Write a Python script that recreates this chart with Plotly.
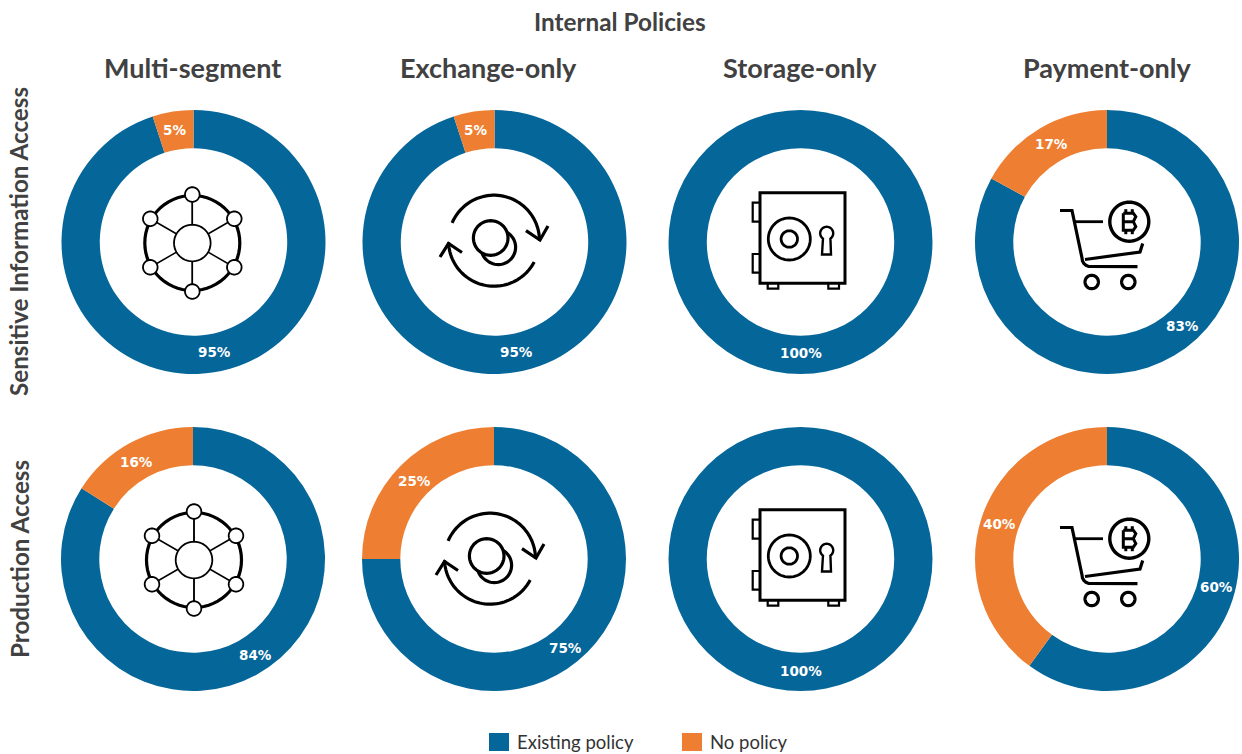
import math
import plotly.graph_objects as go

W, H = 1242, 754

# ---- data ----
segments = ["Multi-segment", "Exchange-only", "Storage-only", "Payment-only"]
policy_areas = ["Sensitive Information Access", "Production Access"]
slice_names = ["Existing policy", "No policy"]
existing_sensitive = [95, 95, 100, 83]
none_sensitive = [5, 5, 0, 17]
existing_production = [84, 75, 100, 60]
none_production = [16, 25, 0, 40]
chart_title = "Internal Policies"

# ---- styles ----
BLUE = "#05669A"
ORANGE = "#EE7F32"
GREY = "#414141"
FONT = "Lato"
LABEL_FONT = "DejaVu Sans"
col_x = [[193.5, 494.5, 800.5, 1107], [193, 494, 800.5, 1107]]
row_y = [242, 559]
R = 132
HOLE = 0.71
# label centres relative to each doughnut centre: (existing, no policy)
label_offsets = [
    [((21, 110), (-19, -112)), ((22, 110), (-19, -112)), ((0, 111), None), ((75, 84), (-56, -98))],
    [((62, 96), (-57, -97)), ((71, 89), (-80, -78)), ((0, 112), None), ((109, 28), (-108, -35))],
]


def px(x, y):
    return x / W, 1 - y / H


annotations = []


def add_text(x, y, text, size, bold=True, rot=0, color=GREY, xanchor="center", family=FONT, weight=None):
    a, b = px(x, y)
    annotations.append(dict(x=a, y=b, xref="paper", yref="paper", text=text, showarrow=False,
                            xanchor=xanchor, yanchor="middle", textangle=rot,
                            font=dict(family=family, size=size, color=color,
                                      weight=weight or (700 if bold else 400))))


fig = go.Figure()
rows = [(existing_sensitive, none_sensitive), (existing_production, none_production)]
for r, (ex, no) in enumerate(rows):
    for c in range(4):
        cx, cy = col_x[r][c], row_y[r]
        x0, y0 = px(cx - R, cy + R)
        x1, y1 = px(cx + R, cy - R)
        vals = [ex[c], no[c]]
        fig.add_trace(go.Pie(
            labels=slice_names,
            values=vals,
            textinfo="none",
            hole=HOLE,
            sort=False,
            direction="clockwise",
            rotation=0,
            marker=dict(colors=[BLUE, ORANGE], line=dict(width=0)),
            domain=dict(x=[x0, x1], y=[y0, y1]),
            showlegend=False,
        ))
        for v, off in zip(vals, label_offsets[r][c]):
            if v > 0:
                add_text(cx + off[0], cy + off[1], f"{v}%", 13.5, color="white", family=LABEL_FONT)

shapes = []


def add_path(points, width=3, fill=None, close=False, color="black"):
    s = ""
    for i, (x, y) in enumerate(points):
        a, b = px(x, y)
        s += f"{'M' if i == 0 else 'L'}{a:.5f},{b:.5f}"
    if close:
        s += "Z"
    shapes.append(dict(type="path", xref="paper", yref="paper", path=s,
                       line=dict(color=color, width=width),
                       fillcolor=fill if fill else "rgba(0,0,0,0)"))


def arc(cx, cy, r, a0, a1, n=48):
    return [(cx + r * math.cos(math.radians(a0 + (a1 - a0) * i / n)),
             cy + r * math.sin(math.radians(a0 + (a1 - a0) * i / n))) for i in range(n + 1)]


def circle(cx, cy, r, width=3, fill=None):
    add_path(arc(cx, cy, r, 0, 360, 60), width, fill, True)


def network(dx, dy):
    cx, cy = 192.3 + dx, 243 + dy
    circle(cx, cy, 47.5, 3.2)
    for a in range(30, 360, 60):
        add_path([(cx, cy), (cx + 47.5 * math.cos(math.radians(a)),
                             cy + 47.5 * math.sin(math.radians(a)))], 1.5)
    add_path([(cx, cy), (cx, cy - 47.5)], 1.5)
    add_path([(cx, cy), (cx, cy + 47.5)], 1.5)
    circle(cx, cy, 18.3, 1.8, "white")
    for a in range(30, 390, 60):
        rr = 48.5
        circle(cx + rr * math.cos(math.radians(a)), cy + rr * math.sin(math.radians(a)), 7.3, 1.8, "white")


def exchange(dx, dy):
    cx, cy = 494 + dx, 240.7 + dy
    add_path(arc(cx, cy, 45.5, 203, 360), 3.2)
    add_path(arc(cx, cy, 45.5, 28, 178), 3.2)
    add_path([(526 + dx, 230.7 + dy), (540 + dx, 240 + dy), (548 + dx, 226 + dy)], 3.2)
    add_path([(440 + dx, 257 + dy), (448.5 + dx, 243.5 + dy), (462 + dx, 252.5 + dy)], 3.2)
    circle(498.3 + dx, 247.3 + dy, 17.3, 3.2, "white")
    circle(490.7 + dx, 238 + dy, 17.3, 3.2, "white")


def safe(dx, dy):
    add_path([(760 + dx, 192.7 + dy), (845 + dx, 192.7 + dy), (845 + dx, 283.3 + dy), (760 + dx, 283.3 + dy)], 3, None, True)
    for y0, y1 in [(202.7, 221.7), (254, 272.7)]:
        add_path([(760 + dx, y0 + dy), (752.7 + dx, y0 + dy), (752.7 + dx, y1 + dy), (760 + dx, y1 + dy)], 2.2)
    for x0, x1 in [(767.7, 778.3), (828.3, 839)]:
        add_path([(x0 + dx, 283.3 + dy), (x0 + dx, 288.7 + dy), (x1 + dx, 288.7 + dy), (x1 + dx, 283.3 + dy)], 2.2)
    circle(789.3 + dx, 239 + dy, 21, 2.8)
    circle(789.3 + dx, 239 + dy, 8.2, 2.8)
    key = arc(826.7 + dx, 233.3 + dy, 6.5, 125, 415, 30)
    key += [(831 + dx, 254.5 + dy), (822 + dx, 254.5 + dy)]
    add_path(key, 2.4, None, True)


def cart(dx, dy):
    add_path([(1060 + dx, 210.5 + dy), (1072 + dx, 210.5 + dy), (1082 + dx, 258 + dy)] +
             [(1090 + dx + 8 * math.cos(math.radians(a)), 258 + dy + 8.5 * math.sin(math.radians(a)))
              for a in range(180, 80, -20)] +
             [(1137.5 + dx, 266.7 + dy)], 3.2)
    add_path([(1085 + dx, 259.5 + dy), (1140 + dx, 252 + dy), (1142.7 + dx, 243.5 + dy)], 3.2)
    add_path([(1075 + dx, 221.7 + dy), (1103 + dx, 221.7 + dy)], 2.8)
    cx, cy = 1129.3 + dx, 221.7 + dy
    circle(cx, cy, 19.5, 3.4)
    add_path([(cx - 6, cy - 8.5), (cx + 4, cy - 8.5), (cx + 6.5, cy - 5), (cx + 4, cy), (cx - 6, cy),
              (cx + 4, cy), (cx + 6.5, cy + 5), (cx + 4, cy + 8.5), (cx - 6, cy + 8.5), (cx - 6, cy - 8.5)], 3)
    for xo in (-3.5, 3):
        add_path([(cx + xo, cy - 12.5), (cx + xo, cy - 8.5)], 3)
        add_path([(cx + xo, cy + 8.5), (cx + xo, cy + 12.5)], 3)
    circle(1091.7 + dx, 282 + dy, 6.7, 3.2)
    circle(1128.3 + dx, 282 + dy, 6.7, 3.2)


icons = [network, exchange, safe, cart]
row_offsets = [[(0, 0), (0, 0), (0, 0), (0, 0)], [(1.7, 317), (-4, 318), (0, 317), (0, 317)]]
for r in range(2):
    for c in range(4):
        icons[c](*row_offsets[r][c])

# ---- legend swatches, titles ----
add_text(620, 22, chart_title, 24.3)
title_x = [192.5, 488, 800, 1107]
for c, name in enumerate(segments):
    add_text(title_x[c], 67, name, 27)
add_text(19, 242, policy_areas[0], 24.2, rot=-90)
add_text(19, 559, policy_areas[1], 24.2, rot=-90)

leg_x = [489, 682]
leg_col = [BLUE, ORANGE]
for i, name in enumerate(slice_names):
    x0, y0 = px(leg_x[i], 751)
    x1, y1 = px(leg_x[i] + 20, 733)
    shapes.append(dict(type="rect", xref="paper", yref="paper", x0=x0, y0=y0, x1=x1, y1=y1,
                       fillcolor=leg_col[i], line=dict(width=0)))
    add_text(leg_x[i] + 25.5, 742, name, 18.5, bold=False, color="#333333", xanchor="left")

fig.update_layout(
    width=W, height=H,
    margin=dict(l=0, r=0, t=0, b=0),
    paper_bgcolor="white",
    plot_bgcolor="white",
    showlegend=False,
    shapes=shapes,
    annotations=annotations,
)
fig.write_html("out.html", config={"displayModeBar": False},
               post_script="document.body.style.margin='0';document.documentElement.style.overflow='hidden';")
